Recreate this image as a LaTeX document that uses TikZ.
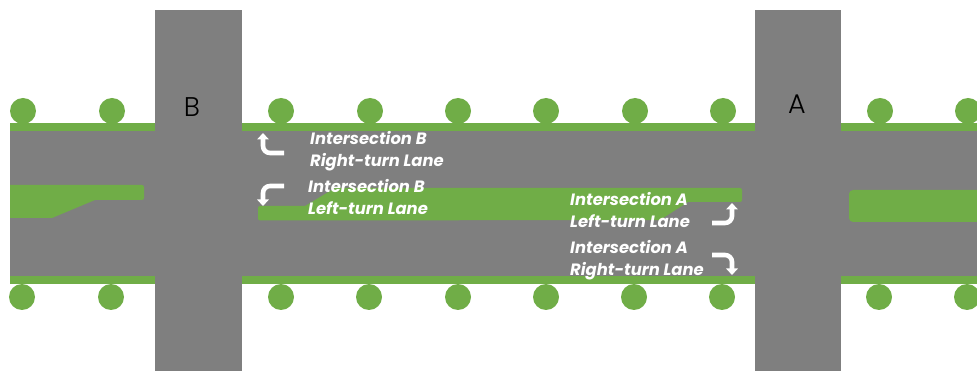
\documentclass[tikz,border=0pt]{standalone}
\usepackage{fontspec}
\setmainfont{Poppins}
\newfontfamily\streetfont{Poppins Light}
\usetikzlibrary{arrows.meta}
\definecolor{roadgrey}{HTML}{7F7F7F}
\definecolor{lanegreen}{HTML}{70AD47}
\tikzset{
  road/.style={fill=roadgrey,draw=none},
  verge/.style={fill=lanegreen,draw=none},
  median/.style={fill=lanegreen,draw=none,rounded corners=2pt},
  treedot/.style={circle,fill=lanegreen,draw=none,minimum size=26pt,inner sep=0pt},
  turn/.style={draw=white,line width=4.6pt,rounded corners=7pt,-{Triangle[width=11.5pt,length=6.5pt]}},
  lanelabel/.style={anchor=base west,inner sep=0pt,text=white,font=\fontsize{16.4pt}{18pt}\selectfont\bfseries\itshape},
  streetlabel/.style={anchor=base,inner sep=0pt,text=black,font=\fontsize{27pt}{30pt}\streetfont\selectfont}
}
\begin{document}
\begin{tikzpicture}[x=1pt,y=-1pt]
\useasboundingbox (0,0) rectangle (977,371);
% trees
\foreach \n/\px in {t1/23,t2/112,t3/281,t4/370,t5/458,t6/546,t7/635,t8/723,t9/880,t10/968}
  \node[treedot] (\n) at (\px,111) {};
\foreach \n/\px in {b1/22,b2/111,b3/281,b4/369,b5/458,b6/546,b7/634,b8/722,b9/879,b10/967}
  \node[treedot] (\n) at (\px,297) {};
% verges and road
\fill[verge] (10,123) rectangle (977,284);
\fill[road] (10,131) rectangle (977,276);
% medians
\fill[lanegreen] (10,185) -- (142,185) arc[start angle=90,end angle=0,radius=2pt] -- (144,198) arc[start angle=0,end angle=-90,radius=2pt] -- (95,200) -- (52,218) -- (10,218) -- cycle;
\fill[lanegreen] (260,206) -- (305,206) -- (335,188) -- (740,188) arc[start angle=90,end angle=0,radius=2pt] -- (742,200) arc[start angle=0,end angle=-90,radius=2pt] -- (688,202) -- (660,220) -- (260,220.5) arc[start angle=-90,end angle=-180,radius=2pt] -- (258,208) arc[start angle=180,end angle=90,radius=2pt] -- cycle;
\fill[lanegreen,rounded corners=4pt] (849,190) -- (990,190) -- (990,222) -- (849,222) -- cycle;
% cross streets
\fill[road] (155,10) rectangle (242,371);
\fill[road] (755,10) rectangle (841,371);
% arrows
\coordinate (a1s) at (284,153); \coordinate (a1c) at (263,153); \coordinate (a1e) at (263,133);
\coordinate (a2s) at (284,186); \coordinate (a2c) at (263,186); \coordinate (a2e) at (263,206);
\coordinate (a3s) at (712,223); \coordinate (a3c) at (732,223); \coordinate (a3e) at (732,203);
\coordinate (a4s) at (712,255); \coordinate (a4c) at (732,255); \coordinate (a4e) at (732,275);
\draw[turn] (a1s) -- (a1c) -- (a1e);
\draw[turn] (a2s) -- (a2c) -- (a2e);
\draw[turn] (a3s) -- (a3c) -- (a3e);
\draw[turn] (a4s) -- (a4c) -- (a4e);
% labels
\node[lanelabel] (l1) at (310,145) {Intersection B};
\node[lanelabel] (l2) at (310,167) {Right-turn Lane};
\node[lanelabel] (l3) at (308,193) {Intersection B};
\node[lanelabel] (l4) at (308,215) {Left-turn Lane};
\node[lanelabel] (l5) at (570,206) {Intersection A};
\node[lanelabel] (l6) at (570,228) {Left-turn Lane};
\node[lanelabel] (l7) at (570,254) {Intersection A};
\node[lanelabel] (l8) at (570,276) {Right-turn Lane};
\node[streetlabel] (sb) at (192,117) {B};
\node[streetlabel] (sa) at (797,114) {A};
\end{tikzpicture}
\end{document}
